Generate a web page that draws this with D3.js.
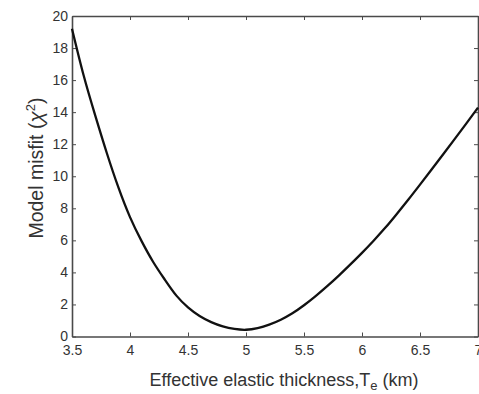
<!DOCTYPE html>
<html>
<head>
<meta charset="utf-8">
<script src="https://cdn.jsdelivr.net/npm/d3@7"></script>
<style>
  body { margin: 0; background: #fff; }
  svg { font-family: "Liberation Sans", Arial, sans-serif; }
</style>
</head>
<body>
<svg id="chart" width="479" height="394"></svg>
<script>
// misfit curve
var te = [3.5, 3.6, 3.7, 3.8, 3.9, 4.0, 4.1, 4.2, 4.3, 4.4, 4.5, 4.6, 4.7, 4.8, 4.9, 5.0,
          5.1, 5.2, 5.3, 5.4, 5.5, 5.6, 5.7, 5.8, 5.9, 6.0, 6.1, 6.2, 6.3, 6.4, 6.5,
          6.6, 6.7, 6.8, 6.9, 7.0];
var misfit = [19.2, 16.3, 13.8, 11.45, 9.3, 7.45, 5.95, 4.65, 3.55, 2.55, 1.82, 1.28, 0.9, 0.63, 0.47, 0.42,
              0.52, 0.74, 1.05, 1.45, 1.95, 2.52, 3.14, 3.8, 4.5, 5.22, 5.98, 6.78, 7.65, 8.55, 9.48,
              10.42, 11.37, 12.33, 13.3, 14.28];
var xTicks = [3.5, 4, 4.5, 5, 5.5, 6, 6.5, 7];
var yTicks = [0, 2, 4, 6, 8, 10, 12, 14, 16, 18, 20];

var margin = {left: 72, top: 16, right: 1, bottom: 57.5};
var W = 479, H = 394;

var svg = d3.select('#chart');

var x = d3.scaleLinear().domain([3.5, 7]).range([margin.left, W - margin.right]);
var y = d3.scaleLinear().domain([0, 20]).range([H - margin.bottom, margin.top]);

var axisColor = '#4a4a4a';
var tickLen = 4;

// bottom axis, ticks pointing in
var gx = svg.append('g')
    .attr('transform', 'translate(0,' + y(0) + ')')
    .call(d3.axisBottom(x).tickValues(xTicks).tickSizeInner(-tickLen).tickSizeOuter(0).tickPadding(9)
        .tickFormat(d3.format('')));

// top axis, no labels
var gxt = svg.append('g')
    .attr('transform', 'translate(0,' + y(20) + ')')
    .call(d3.axisTop(x).tickValues(xTicks).tickSizeInner(-tickLen).tickSizeOuter(0).tickFormat(''));

// left axis
var gy = svg.append('g')
    .attr('transform', 'translate(' + x(3.5) + ',0)')
    .call(d3.axisLeft(y).tickValues(yTicks).tickSizeInner(-tickLen).tickSizeOuter(0).tickPadding(4));

// right axis, no labels
var gyr = svg.append('g')
    .attr('transform', 'translate(' + x(7) + ',0)')
    .call(d3.axisRight(y).tickValues(yTicks).tickSizeInner(-tickLen).tickSizeOuter(0).tickFormat(''));

[gx, gxt, gy, gyr].forEach(function(g){
    g.select('.domain').attr('stroke', axisColor).attr('stroke-width', 1.6);
    g.selectAll('.tick line').attr('stroke', axisColor).attr('stroke-width', 1);
    g.selectAll('.tick text').attr('fill', '#333').style('font-size', '14px')
        .style('font-family', '"Liberation Sans", Arial, sans-serif');
});

// the curve
var line = d3.line()
    .x(function(d, i){ return x(te[i]); })
    .y(function(d){ return y(d); })
    .curve(d3.curveNatural);

svg.append('path')
    .datum(misfit)
    .attr('d', line)
    .attr('fill', 'none')
    .attr('stroke', '#111')
    .attr('stroke-width', 2.3);

// x axis title
var xt = svg.append('text')
    .attr('x', 284)
    .attr('y', 386)
    .attr('text-anchor', 'middle')
    .attr('fill', '#333')
    .style('font-size', '18px');
xt.append('tspan').text('Effective elastic thickness,T');
xt.append('tspan').attr('dy', 4).style('font-size', '13px').text('e');
xt.append('tspan').attr('dy', -4).text(' (km)');

// y axis title
var yt = svg.append('text')
    .attr('transform', 'translate(43,168) rotate(-90)')
    .attr('text-anchor', 'middle')
    .attr('fill', '#333')
    .style('font-size', '19.5px');
yt.append('tspan').text('Model misfit (');
yt.append('tspan').style('font-style', 'italic').style('font-size', '21px').text('χ');
yt.append('tspan').attr('dy', -8).style('font-size', '13px').text('2');
yt.append('tspan').attr('dy', 8).text(')');
</script>
</body>
</html>
